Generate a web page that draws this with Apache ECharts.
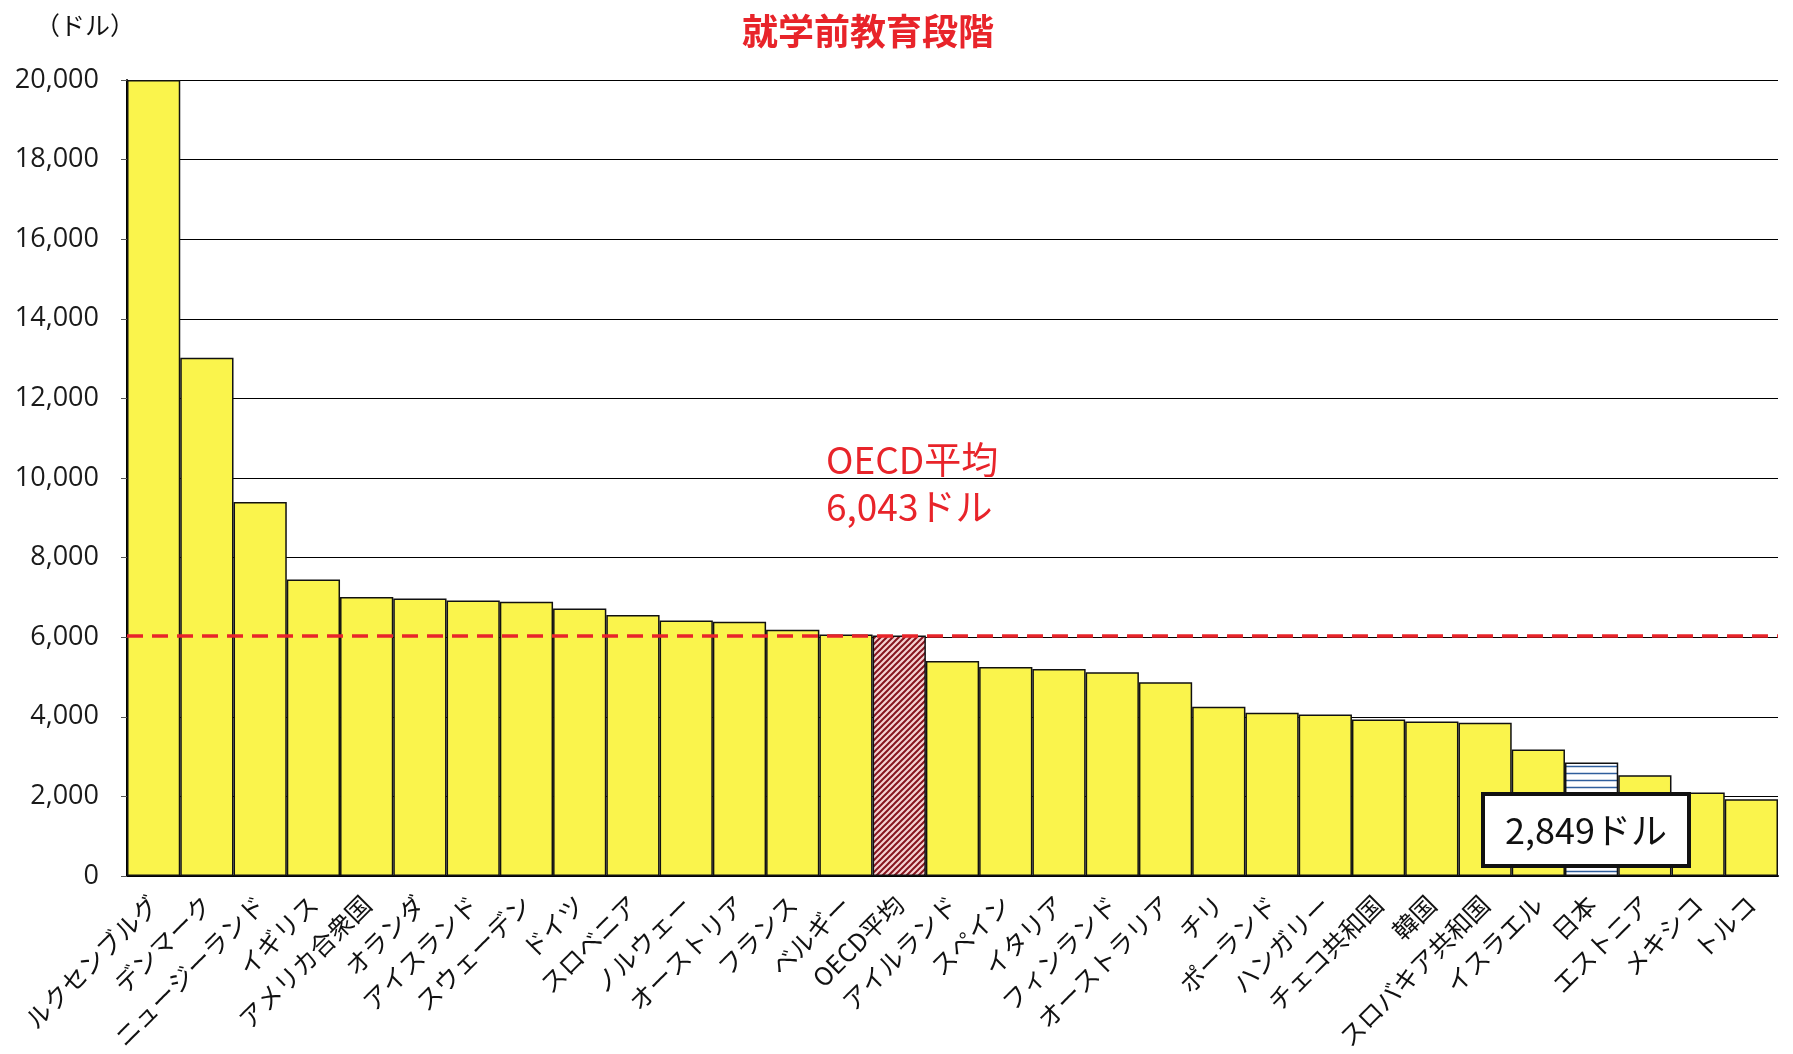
<!DOCTYPE html>
<html>
<head>
<meta charset="utf-8">
<script src="https://cdn.jsdelivr.net/npm/echarts@6/dist/echarts.min.js"></script>
<style>
  html, body { margin: 0; padding: 0; background: #fff; }
  #mainChart { width: 1793px; height: 1054px; }
</style>
</head>
<body>
<div id="mainChart"></div>
<script>
// 就学前教育段階 在学者一人当たり教育支出
var countries = ['ルクセンブルグ', 'デンマーク', 'ニュージーランド', 'イギリス', 'アメリカ合衆国', 'オランダ',
  'アイスランド', 'スウェーデン', 'ドイツ', 'スロベニア', 'ノルウェー', 'オーストリア', 'フランス', 'ベルギー',
  'OECD平均', 'アイルランド', 'スペイン', 'イタリア', 'フィンランド', 'オーストラリア', 'チリ', 'ポーランド',
  'ハンガリー', 'チェコ共和国', '韓国', 'スロバキア共和国', 'イスラエル', '日本', 'エストニア', 'メキシコ', 'トルコ'];
var spending = [20000, 13020, 9400, 7450, 7010, 6970,
  6920, 6890, 6720, 6560, 6420, 6390, 6190, 6070,
  6043, 5400, 5250, 5200, 5120, 4870, 4250, 4100,
  4060, 3930, 3880, 3850, 3180, 2849, 2530, 2100, 1930];
var yTicks = [0, 2000, 4000, 6000, 8000, 10000, 12000, 14000, 16000, 18000, 20000];
var oecdAverage = 6043;
var japanValue = 2849;

function makePattern(size, draw) {
  var c = document.createElement('canvas');
  c.width = size; c.height = size;
  draw(c.getContext('2d'), size);
  return c;
}

var hatchRed = makePattern(6, function (ctx, s) {
  ctx.fillStyle = '#F4D2D2';
  ctx.fillRect(0, 0, s, s);
  ctx.strokeStyle = '#86141E';
  ctx.lineWidth = 2;
  ctx.beginPath();
  ctx.moveTo(-s, s); ctx.lineTo(s, -s);
  ctx.moveTo(0, s); ctx.lineTo(s, 0);
  ctx.moveTo(0, 2 * s); ctx.lineTo(2 * s, 0);
  ctx.stroke();
});

var stripeBlue = makePattern(7, function (ctx, s) {
  ctx.fillStyle = '#FFFFFF';
  ctx.fillRect(0, 0, s, s);
  ctx.strokeStyle = '#2F5E9C';
  ctx.lineWidth = 1.5;
  ctx.beginPath();
  ctx.moveTo(0, 3.5); ctx.lineTo(s, 3.5);
  ctx.stroke();
});

var barData = spending.map(function (v, i) {
  var item = { value: v };
  if (countries[i] === 'OECD平均') {
    item.itemStyle = { color: { image: hatchRed, repeat: 'repeat' } };
  } else if (countries[i] === '日本') {
    item.itemStyle = { color: { image: stripeBlue, repeat: 'repeat' } };
  }
  return item;
});

var myChart = echarts.init(document.getElementById('mainChart'));

var option = {
  backgroundColor: '#ffffff',
  animation: false,
  title: {
    text: '就学前教育段階',
    left: 863,
    top: 8,
    textAlign: 'center',
    textStyle: {
      color: '#E8242A',
      fontSize: 36,
      fontWeight: 'bold',
      fontFamily: 'Noto Sans CJK JP'
    }
  },
  grid: { left: 127, right: 15, top: 80, bottom: 178 },
  xAxis: {
    type: 'category',
    data: countries,
    axisLine: { lineStyle: { color: '#000', width: 2 } },
    axisTick: { show: false },
    axisLabel: {
      rotate: 45,
      interval: 0,
      margin: 24,
      color: '#111',
      fontSize: 25,
      fontFamily: 'Noto Sans CJK JP'
    }
  },
  yAxis: {
    type: 'value',
    min: 0,
    max: 20000,
    interval: 2000,
    name: '（ドル）',
    nameLocation: 'end',
    nameGap: 42,
    nameTextStyle: {
      color: '#111',
      fontSize: 25,
      align: 'right',
      padding: [0, -8, 0, 0],
      fontFamily: 'Noto Sans CJK JP'
    },
    axisLine: { show: true, lineStyle: { color: '#000', width: 2 } },
    axisTick: { show: true, length: 6, lineStyle: { color: '#555' } },
    splitLine: { lineStyle: { color: '#000', width: 1.2 } },
    axisLabel: {
      margin: 28,
      color: '#1a1a1a',
      fontSize: 27,
      fontFamily: 'Open Sans',
      customValues: yTicks,
      formatter: function (v) { return v.toLocaleString('en-US'); }
    }
  },
  series: [{
    type: 'bar',
    data: barData,
    barCategoryGap: '0%',
    itemStyle: {
      color: '#FAF44C',
      borderColor: '#111',
      borderWidth: 1.5
    },
    markLine: {
      silent: true,
      symbol: 'none',
      label: { show: false },
      lineStyle: { color: '#E8242A', type: [16, 9], width: 3.5 },
      data: [{ yAxis: oecdAverage }]
    },
    z: 2
  }],
  graphic: [
    {
      type: 'text',
      x: 826,
      y: 436,
      z: 10,
      style: {
        text: 'OECD平均\n' + oecdAverage.toLocaleString('en-US') + 'ドル',
        fill: '#E8242A',
        font: '37px "Noto Sans CJK JP"',
        lineHeight: 47
      }
    },
    {
      type: 'rect',
      z: 10,
      shape: { x: 1483, y: 794, width: 206, height: 72 },
      style: { fill: '#fff', stroke: '#111', lineWidth: 4 }
    },
    {
      type: 'text',
      z: 11,
      x: 1586,
      y: 830,
      style: {
        text: japanValue.toLocaleString('en-US') + 'ドル',
        fill: '#111',
        font: '36px "Noto Sans CJK JP"',
        align: 'center',
        verticalAlign: 'middle'
      }
    }
  ]
};

myChart.setOption(option);
</script>
</body>
</html>
